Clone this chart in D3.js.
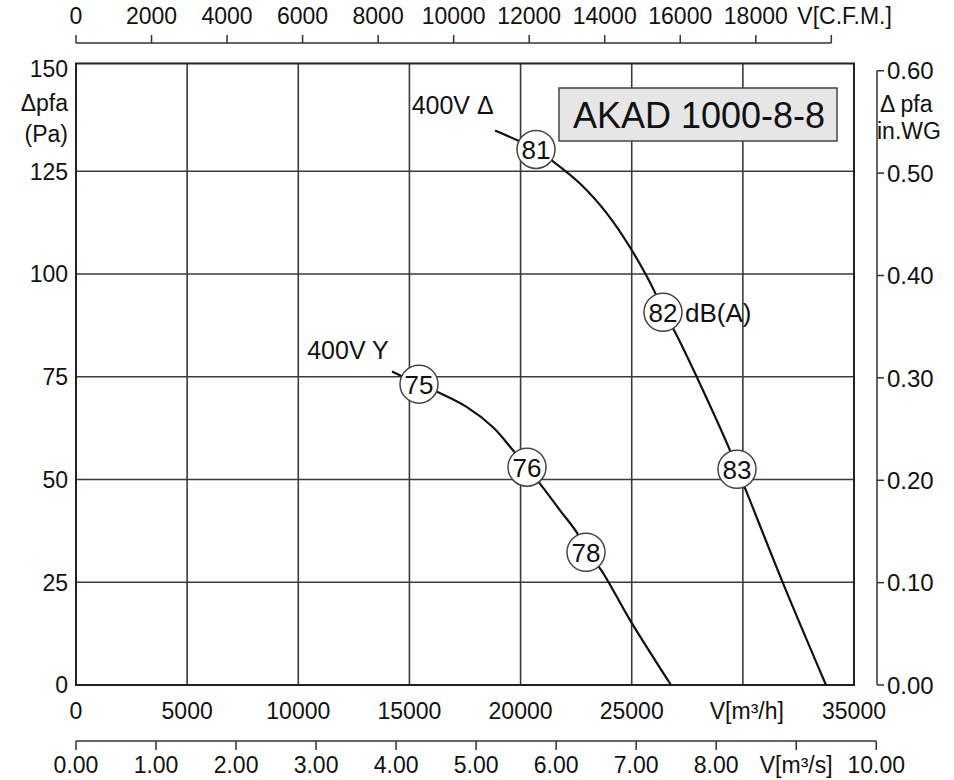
<!DOCTYPE html>
<html><head><meta charset="utf-8">
<script src="https://cdn.jsdelivr.net/npm/d3@7"></script>
<style>
body{margin:0;background:#fff;}
text{font-family:"Liberation Sans",Arial,Helvetica,sans-serif;fill:#111;}
</style></head>
<body><svg id="c" width="954" height="780"></svg>
<script>
// ---- data ----
const flowTicks = [0,5000,10000,15000,20000,25000,30000,35000];
const flowLabels = ["0","5000","10000","15000","20000","25000","V[m³/h]","35000"];
const pressTicks = [0,25,50,75,100,125,150];
const cfmTicks = [0,2000,4000,6000,8000,10000,12000,14000,16000,18000,20000];
const cfmLabels = ["0","2000","4000","6000","8000","10000","12000","14000","16000","18000","V[C.F.M.]"];
const m3sTicks = [0,1,2,3,4,5,6,7,8,9,10];
const m3sLabels = ["0.00","1.00","2.00","3.00","4.00","5.00","6.00","7.00","8.00","V[m³/s]","10.00"];
const inwgTicks = [0,0.1,0.2,0.3,0.4,0.5,0.6];

const deltaFlow = [18850,20694,21459,22673,23888,24923,26047,26407,26857,29421,29736,30096,31805,33740];
const deltaPress = [134.9,130.3,127.4,122.0,114.7,106.5,95.5,90.7,86.8,57.1,52.5,47.9,24.8,0];
const starFlow = [14216,15431,16285,17590,18760,19660,20289,20830,21774,22539,22943,23573,24923,26767];
const starPress = [76.3,73.2,71.2,67.6,62.7,57.1,53.0,49.3,42.5,37.0,32.3,28.4,15.8,0];

const noiseLabels = ["81","82","83","75","76","78"];
const noiseFlow = [20694,26407,29736,15431,20289,22943];
const noisePress = [130.3,90.7,52.5,73.2,53.0,32.3];

const curveNames = ["400V Δ","400V Y"];
const curveNameFlow = [15100,10400];
const curveNamePress = [141,81.5];
const title = "AKAD 1000-8-8";

// ---- scales ----
const svg = d3.select("#c");
const x = d3.scaleLinear().domain([0,35000]).range([76,854]);
const y = d3.scaleLinear().domain([0,150]).range([685,68.5]);
const xCfm = d3.scaleLinear().domain([0,35000/1.699011]).range(x.range());
const xS = d3.scaleLinear().domain([0,35000/3600]).range(x.range());
const yIn = d3.scaleLinear().domain([0,150/249.089]).range(y.range());

const gridCol = "#3a3a3a";
// grid
svg.append("g").selectAll("line").data(flowTicks.slice(1,-1)).join("line")
  .attr("x1",d=>x(d)).attr("x2",d=>x(d)).attr("y1",y(0)).attr("y2",y(150)-5)
  .attr("stroke",gridCol).attr("stroke-width",1.6);
svg.append("g").selectAll("line").data(pressTicks.slice(1,-1)).join("line")
  .attr("x1",x(0)).attr("x2",x(35000)).attr("y1",d=>y(d)).attr("y2",d=>y(d))
  .attr("stroke",gridCol).attr("stroke-width",1.6);
// frame
svg.append("rect").attr("x",x(0)).attr("y",y(150)-5).attr("width",x(35000)-x(0)).attr("height",y(0)-y(150)+5)
  .attr("fill","none").attr("stroke","#222").attr("stroke-width",2);

// left labels
svg.append("g").selectAll("text").data(pressTicks).join("text")
  .attr("x",68).attr("y",d=>y(d)).attr("dy","0.36em").attr("text-anchor","end")
  .attr("font-size",23).text(d=>d);
svg.append("text").attr("x",68).attr("y",103).attr("dy","0.36em").attr("text-anchor","end").attr("font-size",23).text("Δpfa");
svg.append("text").attr("x",68).attr("y",134).attr("dy","0.36em").attr("text-anchor","end").attr("font-size",23).text("(Pa)");

// right axis
const rx = 877;
svg.append("line").attr("x1",rx).attr("x2",rx).attr("y1",yIn(0)).attr("y2",yIn(0.6)).attr("stroke","#333").attr("stroke-width",1.5);
svg.append("g").selectAll("line").data(inwgTicks).join("line")
  .attr("x1",rx).attr("x2",rx+7).attr("y1",d=>yIn(d)).attr("y2",d=>yIn(d)).attr("stroke","#333").attr("stroke-width",1.5);
svg.append("g").selectAll("text").data(inwgTicks).join("text")
  .attr("x",rx+10).attr("y",d=>yIn(d)).attr("dy","0.36em").attr("font-size",24).text(d=>d.toFixed(2));
svg.append("text").attr("x",rx+3).attr("y",104).attr("dy","0.36em").attr("font-size",23).text("Δ pfa");
svg.append("text").attr("x",rx).attr("y",131).attr("dy","0.36em").attr("font-size",23).text("in.WG");

// top CFM axis
const ty = 43;
svg.append("line").attr("x1",xCfm(0)).attr("x2",xCfm(20000)).attr("y1",ty).attr("y2",ty).attr("stroke","#333").attr("stroke-width",1.5);
svg.append("g").selectAll("line").data(cfmTicks).join("line")
  .attr("x1",d=>xCfm(d)).attr("x2",d=>xCfm(d)).attr("y1",ty).attr("y2",ty-8).attr("stroke","#333").attr("stroke-width",1.5);
svg.append("g").selectAll("text").data(cfmTicks).join("text")
  .attr("x",(d,i)=> i===cfmTicks.length-1 ? xCfm(d)-34 : xCfm(d))
  .attr("text-anchor",(d,i)=> i===cfmTicks.length-1 ? "start" : "middle")
  .attr("y",16).attr("dy","0.36em").attr("font-size",23).text((d,i)=>cfmLabels[i]);

// bottom m3/h labels
svg.append("g").selectAll("text").data(flowTicks).join("text")
  .attr("x",(d,i)=> x(d) + (i===6 ? 4 : 0)).attr("y",711).attr("dy","0.36em").attr("text-anchor","middle")
  .attr("font-size",23).text((d,i)=>flowLabels[i]);

// bottom m3/s axis
const by = 741;
svg.append("line").attr("x1",xS(0)).attr("x2",xS(10)).attr("y1",by).attr("y2",by).attr("stroke","#333").attr("stroke-width",1.5);
svg.append("g").selectAll("line").data(m3sTicks).join("line")
  .attr("x1",d=>xS(d)).attr("x2",d=>xS(d)).attr("y1",by).attr("y2",by+9).attr("stroke","#333").attr("stroke-width",1.5);
svg.append("g").selectAll("text").data(m3sTicks).join("text")
  .attr("x",d=>xS(d)).attr("y",765).attr("dy","0.36em").attr("text-anchor","middle")
  .attr("font-size",23).text((d,i)=>m3sLabels[i]);

// curves
const line = d3.line().x(d=>x(d[0])).y(d=>y(d[1])).curve(d3.curveCatmullRom.alpha(0.5));
svg.append("path").datum(deltaFlow.map((f,i)=>[f,deltaPress[i]])).attr("d",line)
  .attr("fill","none").attr("stroke","#111").attr("stroke-width",2.2);
svg.append("path").datum(starFlow.map((f,i)=>[f,starPress[i]])).attr("d",line)
  .attr("fill","none").attr("stroke","#111").attr("stroke-width",2.2);

// noise circles
const ng = svg.append("g").selectAll("g").data(noiseLabels).join("g")
  .attr("transform",(d,i)=>`translate(${x(noiseFlow[i])},${y(noisePress[i])})`);
ng.append("circle").attr("r",19).attr("fill","#fff").attr("stroke","#444").attr("stroke-width",1.5);
ng.append("text").attr("text-anchor","middle").attr("dy","0.36em").attr("font-size",26).text(d=>d);
svg.append("text").attr("x",x(noiseFlow[1])+22).attr("y",y(noisePress[1])).attr("dy","0.36em").attr("font-size",26).text("dB(A)");

// curve names
svg.append("g").selectAll("text").data(curveNames).join("text")
  .attr("x",(d,i)=>x(curveNameFlow[i])).attr("y",(d,i)=>y(curveNamePress[i])).attr("dy","0.36em")
  .attr("font-size",25).text(d=>d);

// title box
svg.append("rect").attr("x",559).attr("y",88).attr("width",278).attr("height",53)
  .attr("fill","#e6e6e6").attr("stroke","#444").attr("stroke-width",1.5);
svg.append("text").attr("x",699).attr("y",115).attr("dy","0.36em").attr("text-anchor","middle")
  .attr("font-size",36).text(title);
</script></body></html>
